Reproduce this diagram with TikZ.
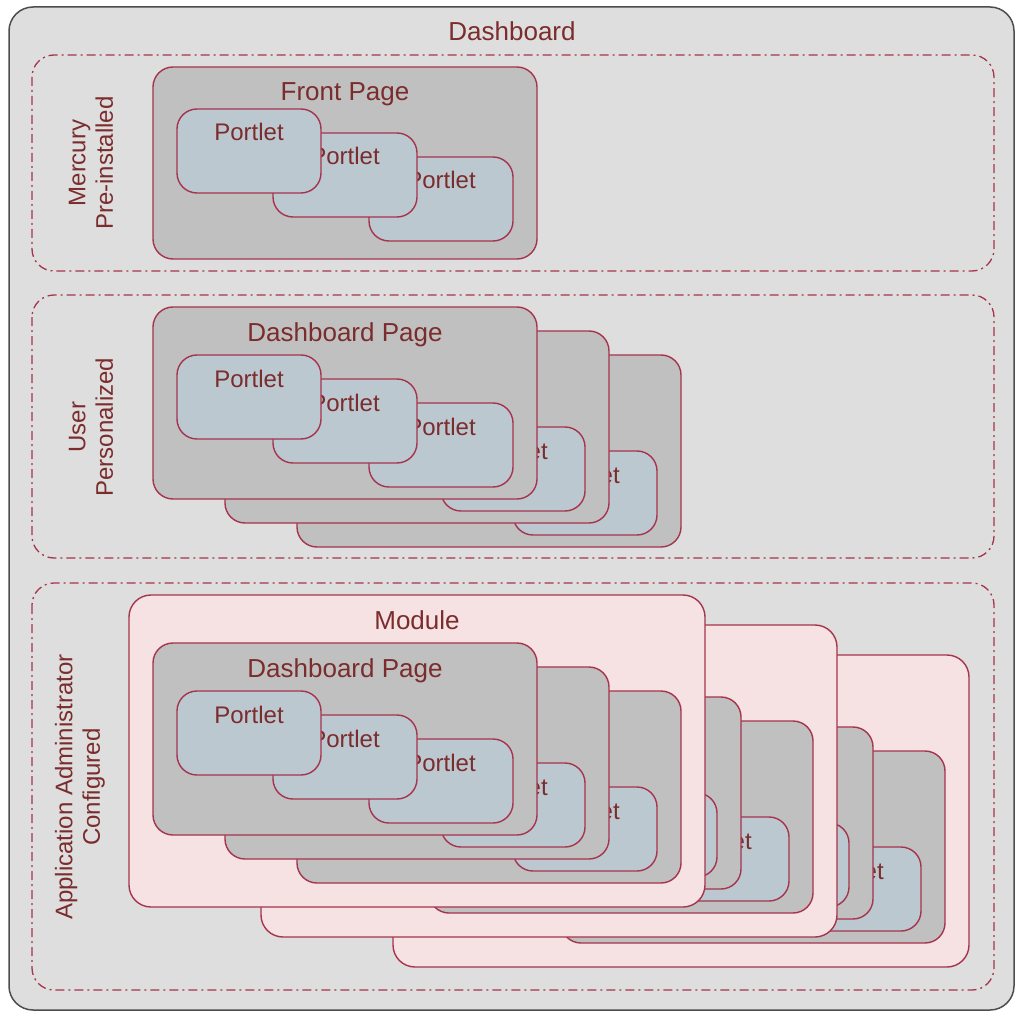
\documentclass[tikz,border=0pt]{standalone}
\usepackage{fontspec}
\setmainfont{Liberation Sans}
\definecolor{bggray}{HTML}{DEDEDE}
\definecolor{pagegray}{HTML}{C0C0C0}
\definecolor{portletblue}{HTML}{BCC8D0}
\definecolor{modulepink}{HTML}{F6E1E3}
\definecolor{strokered}{HTML}{A5344C}
\definecolor{textred}{HTML}{7B2C2C}
\definecolor{outergray}{HTML}{4D4D4D}
\tikzset{
  outerbox/.style={draw=outergray, fill=bggray, line width=1.5pt, rounded corners=24pt},
  groupbox/.style={draw=strokered, line width=1.3pt, dash pattern=on 9pt off 4pt on 2pt off 4pt, rounded corners=22pt},
  boxbase/.style={draw=strokered, line width=1.4pt, inner sep=0pt, outer sep=0pt, anchor=north west},
  pagebox/.style={boxbase, fill=pagegray, rounded corners=20pt, minimum width=384pt, minimum height=192pt},
  portletbox/.style={boxbase, fill=portletblue, rounded corners=20pt, minimum width=144pt, minimum height=84pt},
  modulebox/.style={boxbase, fill=modulepink, rounded corners=22pt, minimum width=576pt, minimum height=312pt},
  ttext/.style={text=textred, font=\fontsize{26}{30}\selectfont, inner sep=0pt, anchor=base},
  ptext/.style={text=textred, font=\fontsize{24}{28}\selectfont, inner sep=0pt, anchor=base},
  grouplabel/.style={text=textred, font=\fontsize{24}{27.5}\selectfont, inner sep=0pt, align=center, rotate=90},
}
\newcommand\mkportlet[3]{%
  \node[portletbox] (#1) at (#2,#3) {};
  \node[ptext] (#1-t) at ([yshift=-32pt]#1.north) {Portlet};}
\newcommand\mkpage[5]{%
  \node[pagebox] (#1) at (#2,#3) {};
  \node[ttext] (#1-t) at ([yshift=-34pt]#1.north) {#4};
  \mkportlet{#1-c}{#2+216}{#3+#5+48}
  \mkportlet{#1-b}{#2+120}{#3+#5+24}
  \mkportlet{#1-a}{#2+24}{#3+#5}}
\newcommand\mkstack[3]{%
  \mkpage{#1-3}{#2+144}{#3+48}{Dashboard Page}{48}
  \mkpage{#1-2}{#2+72}{#3+24}{Dashboard Page}{48}
  \mkpage{#1-1}{#2}{#3}{Dashboard Page}{48}}
\newcommand\mkmodule[3]{%
  \node[modulebox] (#1) at (#2,#3) {};
  \node[ttext] (#1-t) at ([yshift=-34pt]#1.north) {Module};
  \mkstack{#1-s}{#2+24}{#3+48}}
\begin{document}
\begin{tikzpicture}[x=1pt,y=-1pt]
\useasboundingbox (0,0) rectangle (1015,1011);
\fill[white] (0,0) rectangle (1015,1011);
% outer dashboard
\draw[outerbox] (9,7) rectangle (1014,1010);
\node[ttext] (dash-t) at (512,41) {Dashboard};
% groups
\draw[groupbox] (32,55) rectangle (994,271);
\draw[groupbox] (32,295) rectangle (994,558);
\draw[groupbox] (32,583) rectangle (994,990);
\node[grouplabel] (g1) at (91,163) {Mercury\\Pre-installed};
\node[grouplabel] (g2) at (91,427) {User\\Personalized};
\node[grouplabel] (g3) at (80,787) {Application Administrator\\Configured};
% group 1: front page
\mkpage{fp}{153}{67}{Front Page}{42}
% group 2: dashboard pages
\mkstack{up}{153}{307}
% group 3: modules
\mkmodule{m3}{393}{655}
\mkmodule{m2}{261}{625}
\mkmodule{m1}{129}{595}
\end{tikzpicture}
\end{document}
